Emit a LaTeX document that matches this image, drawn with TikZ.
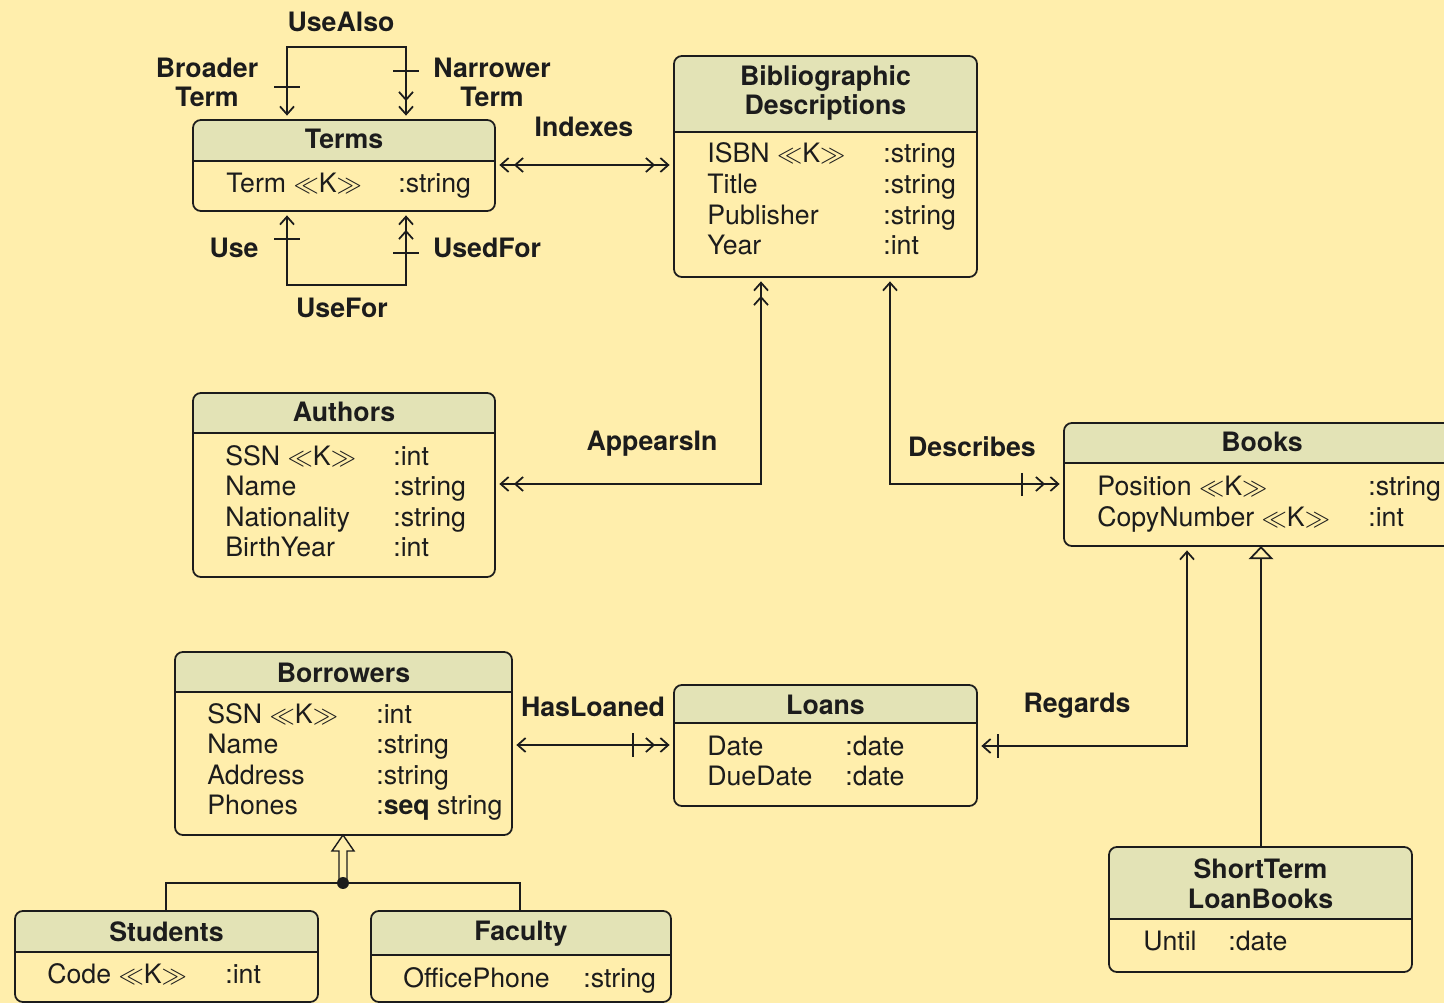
\documentclass[tikz,border=0pt]{standalone}
\usepackage{fontspec}
\setmainfont{TeX Gyre Heros}
\usetikzlibrary{arrows.meta,fit,calc}

\definecolor{bg}{RGB}{255,238,172}
\definecolor{band}{RGB}{227,227,182}
\definecolor{ink}{RGB}{28,28,28}

% entity box: #1 name, #2 left, #3 top, #4 right, #5 bottom,
% #6 divider y, #7 baseline y of the last title line, #8 title
\newcommand{\entity}[8]{%
  \coordinate (#1-nw) at (#2,#3);
  \coordinate (#1-se) at (#4,#5);
  \node[fit=(#1-nw)(#1-se), inner sep=0pt, outer sep=0pt] (#1) {};
  \begin{scope}
    \clip[rounded corners=4.5pt] (#1.north west) rectangle (#1.south east);
    \fill[band] (#1.north west) rectangle (#4,#6);
  \end{scope}
  \draw[boxline, rounded corners=4.5pt] (#1.north west) rectangle (#1.south east);
  \draw[boxline] (#2,#6) -- (#4,#6);
  \node[title, anchor=base] (#1-title) at (#1.north |- 0,#7) {#8};
}

% attribute rows: #1 prefix, #2 name x, #3 type x, #4 first baseline, #5 rows
\newcommand{\attrs}[5]{%
  \foreach \aname/\atype [count=\i] in {#5} {
    \node[attr] (#1-a\i) at ({#2},{#4+30.6*(\i-1)}) {\aname};
    \node[attr] (#1-t\i) at ({#3},{#4+30.6*(\i-1)}) {\atype};
  }
}

\newcommand{\kk}{$\ll$K$\gg$}

\begin{document}
\begin{tikzpicture}[x=0.02cm, y=-0.02cm,
  >={Straight Barb[length=4.5pt,width=8pt,sep=2.5pt]},
  boxline/.style={draw=ink, line width=1pt},
  title/.style={font=\fontsize{15.2}{17}\selectfont\bfseries, text=ink, inner sep=0pt, align=center},
  attr/.style={font=\fontsize{15.2}{17}\selectfont, text=ink, inner sep=0pt, anchor=base west},
  lbl/.style={font=\fontsize{15.2}{17}\selectfont\bfseries, text=ink, inner sep=0pt, anchor=base, align=center},
  conn/.style={draw=ink, line width=1pt},
  tick/.style={draw=ink, line width=0.7pt},
]
\useasboundingbox (0,0) rectangle (1444,1003);
\clip (0,0) rectangle (1444,1003);
\fill[bg] (0,0) rectangle (1444,1003);

% ---- entities
\entity{terms}{193}{120}{495}{211}{161}{149}{Terms}
\attrs{terms}{226}{398}{193}{Term \kk/:string}

\entity{bd}{674}{56}{977}{277}{132}{115}{Bibliographic\\Descriptions}
\attrs{bd}{707}{883}{163}{ISBN \kk/:string, Title/:string, Publisher/:string, Year/:int}

\entity{authors}{193}{393}{495}{577}{433}{422}{Authors}
\attrs{authors}{225}{393}{465}{SSN \kk/:int, Name/:string, Nationality/:string, BirthYear/:int}

\entity{books}{1064}{423}{1460}{546}{463}{452}{Books}
\attrs{books}{1097}{1368}{496}{Position \kk/:string, CopyNumber \kk/:int}

\entity{borrowers}{175}{652}{512}{835}{692}{682}{Borrowers}
\attrs{borrowers}{207}{376}{723}{SSN \kk/:int, Name/:string, Address/:string, Phones/:\textbf{seq} string}

\entity{loans}{674}{685}{977}{806}{723}{714}{Loans}
\attrs{loans}{707}{845}{755}{Date/:date, DueDate/:date}

\entity{students}{15}{911}{318}{1002}{952}{941}{Students}
\attrs{students}{47}{225}{983}{Code \kk/:int}

\entity{faculty}{371}{911}{671}{1002}{955}{940}{Faculty}
\attrs{faculty}{403}{583}{987}{OfficePhone/:string}

\entity{stlb}{1109}{847}{1412}{972}{919}{908}{ShortTerm\\LoanBooks}
\attrs{stlb}{1143}{1228}{950}{Until/:date}

% ---- thesaurus relationships on Terms
\coordinate (ua-l) at (287,47);
\coordinate (ua-r) at (406,47);
\coordinate (uf-l) at (287,285);
\coordinate (uf-r) at (406,285);
\draw[conn, <->>] (terms.north -| ua-l) -- (ua-l) -- (ua-r) -- (terms.north -| ua-r);
\draw[conn, <->>] (terms.south -| uf-l) -- (uf-l) -- (uf-r) -- (terms.south -| uf-r);
\draw[tick] (274,87) -- (300,87);
\draw[tick] (393,71) -- (419,71);
\draw[tick] (274,239) -- (300,239);
\draw[tick] (393,253) -- (419,253);
\node[lbl] (l-usealso) at (341,32) {UseAlso};
\node[lbl] (l-broader) at (207,107) {Broader\\Term};
\node[lbl] (l-narrower) at (492,107) {Narrower\\Term};
\node[lbl] (l-use) at (234,258) {Use};
\node[lbl] (l-usedfor) at (487,258) {UsedFor};
\node[lbl] (l-usefor) at (342,318) {UseFor};

% ---- Indexes
\coordinate (ix) at (0,165);
\draw[conn, <<->>] (terms.east |- ix) -- (bd.west |- ix);
\node[lbl] (l-indexes) at (584,137) {Indexes};

% ---- AppearsIn
\coordinate (ap) at (761,484);
\draw[conn, <<->>] (authors.east |- ap) -- (ap) -- (bd.south -| ap);
\node[lbl] (l-appears) at (652,451) {AppearsIn};

% ---- Describes
\coordinate (ds) at (890,484);
\draw[conn, <->>] (bd.south -| ds) -- (ds) -- (books.west |- ds);
\draw[tick] (1022,473) -- (1022,496);
\node[lbl] (l-describes) at (972,457) {Describes};

% ---- HasLoaned
\coordinate (hl) at (0,745);
\draw[conn, <->>] (borrowers.east |- hl) -- (loans.west |- hl);
\draw[tick] (633,733) -- (633,757);
\node[lbl] (l-hasloaned) at (593,716) {HasLoaned};

% ---- Regards
\coordinate (rg) at (1187,746);
\draw[conn, <->] (loans.east |- rg) -- (rg) -- (books.south -| rg);
\draw[tick] (998,734) -- (998,758);
\node[lbl] (l-regards) at (1077,712) {Regards};

% ---- ShortTermLoanBooks is a Books
\coordinate (st) at (1261,0);
\draw[conn, -{Triangle[open, length=7.5pt, width=14pt]}] (stlb.north -| st) -- (books.south -| st);

% ---- Students and Faculty are Borrowers
\coordinate (gen) at (343,883);
\draw[conn] (students.north -| 166,0) |- (gen) -| (faculty.north -| 520,0);
\filldraw[conn, line width=0.8pt, fill=bg, line join=miter]
  ($(gen)+(-4,0)$) -- ($(gen)+(-4,-32)$) -- ($(gen)+(-11,-32)$) -- (borrowers.south -| gen)
  -- ($(gen)+(11,-32)$) -- ($(gen)+(4,-32)$) -- ($(gen)+(4,0)$);
\fill[ink] (gen) circle[radius=3.4pt];
\end{tikzpicture}
\end{document}
